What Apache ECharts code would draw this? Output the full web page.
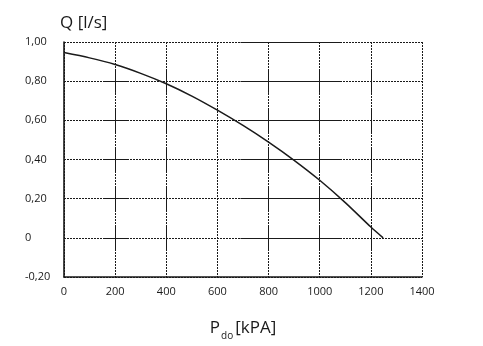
<!DOCTYPE html>
<html>
<head>
<meta charset="utf-8">
<script src="https://cdn.jsdelivr.net/npm/echarts@6/dist/echarts.min.js"></script>
<style>
  html, body { margin: 0; padding: 0; background: #fff; }
  #chart { width: 483px; height: 346px; }
</style>
</head>
<body>
<div id="chart"></div>
<script>
// Pump curve: flow Q [l/s] against pressure P_do [kPA]
const pressure = [0, 100, 200, 300, 400, 500, 600, 700, 800, 900, 1000, 1100, 1200, 1248];
const flow = [0.946, 0.919, 0.885, 0.840, 0.787, 0.724, 0.652, 0.574, 0.489, 0.396, 0.294, 0.180, 0.055, 0.0];

const xTicks = [0, 200, 400, 600, 800, 1000, 1200, 1400];
const yTickLabels = ['-0,20', '0', '0,20', '0,40', '0,60', '0,80', '1,00'];

const X_MIN = 0, X_MAX = 1400, X_STEP = 200;
const Y_MIN = -0.2, Y_MAX = 1.0, Y_STEP = 0.2;

const FONT = "'Open Sans', 'DejaVu Sans', sans-serif";
const INK = '#1a1a1a';

// The printed grid is dotted, with some stretches inked solid.
const rowLevels = [1.0, 0.8, 0.6, 0.4, 0.2, 0];
const solidRowSpans = [[160, 250], [690, 1080]];
const solidColumns = [200, 400, 800, 1000, 1200];
const solidColumnHalf = 0.06;

function buildSolidSegments() {
  const segs = [];
  rowLevels.forEach(function (lv) {
    solidRowSpans.forEach(function (span, i) {
      if (lv === 1.0 && i === 0) return;
      segs.push([{ coord: [span[0], lv] }, { coord: [span[1], lv] }]);
    });
  });
  solidColumns.forEach(function (cx) {
    rowLevels.forEach(function (lv) {
      if (lv === 1.0) return;
      const a = Math.max(Y_MIN, lv - solidColumnHalf);
      const b = Math.min(Y_MAX, lv + solidColumnHalf);
      segs.push([{ coord: [cx, a] }, { coord: [cx, b] }]);
    });
  });
  return segs;
}

const chart = echarts.init(document.getElementById('chart'), null, { renderer: 'canvas' });

chart.setOption({
  animation: false,
  backgroundColor: '#ffffff',
  title: {
    text: 'Q [l/s]',
    left: 55,
    top: 10,
    textStyle: { fontFamily: FONT, fontSize: 17, fontWeight: 'normal', color: INK }
  },
  grid: { left: 64, right: 61, top: 42, bottom: 65, containLabel: false },
  xAxis: {
    type: 'value',
    min: X_MIN, max: X_MAX, interval: X_STEP,
    name: '{m|P}{s|do}{m|[kPA]}',
    nameLocation: 'middle',
    nameGap: 40,
    nameTextStyle: {
      rich: {
        m: { fontFamily: FONT, fontSize: 17, color: INK, lineHeight: 22, verticalAlign: 'middle' },
        s: { fontFamily: FONT, fontSize: 10, color: INK, lineHeight: 10, verticalAlign: 'bottom', padding: [0, 2, -2, 1] }
      }
    },
    axisLine: { show: true, onZero: false, lineStyle: { color: INK, width: 1.6 } },
    axisTick: { show: false },
    axisLabel: {
      margin: 9,
      fontFamily: FONT, fontSize: 11, color: INK,
      formatter: function (v) { return String(v); }
    },
    splitLine: { show: true, lineStyle: { color: INK, width: 1, type: [2, 1] } }
  },
  yAxis: {
    type: 'value',
    min: Y_MIN, max: Y_MAX, interval: Y_STEP,
    axisLine: { show: true, onZero: false, lineStyle: { color: INK, width: 1.6 } },
    axisTick: { show: false },
    axisLabel: {
      margin: 39,
      align: 'left',
      fontFamily: FONT, fontSize: 11, color: INK,
      formatter: function (v) {
        return yTickLabels[Math.round((v - Y_MIN) / Y_STEP)];
      }
    },
    splitLine: { show: true, lineStyle: { color: INK, width: 1, type: [2, 1] } }
  },
  series: [{
    type: 'line',
    data: pressure.map(function (p, i) { return [p, flow[i]]; }),
    smooth: 0.3,
    showSymbol: false,
    lineStyle: { color: INK, width: 1.5 },
    markLine: {
      silent: true,
      symbol: ['none', 'none'],
      label: { show: false },
      lineStyle: { color: INK, width: 1, type: 'solid' },
      data: buildSolidSegments()
    },
    z: 5
  }]
});
</script>
</body>
</html>
